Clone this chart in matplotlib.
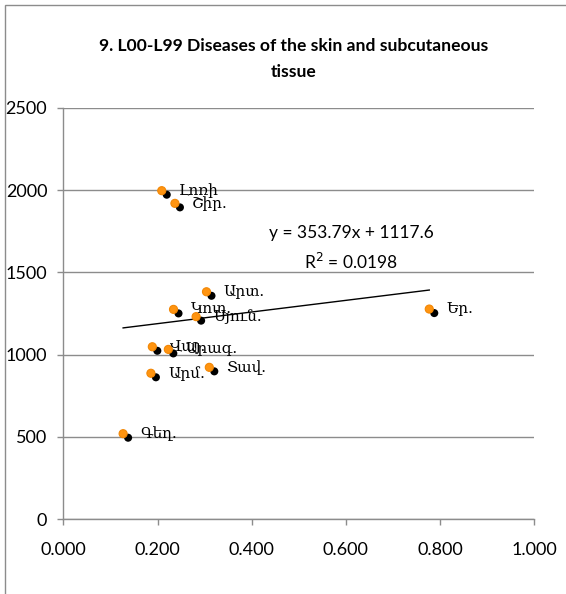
import matplotlib
matplotlib.use("Agg")
import matplotlib.pyplot as plt
import matplotlib.patheffects as pe
from matplotlib.patches import Rectangle

# Region abbreviations and their (rate, incidence) values
regions = ["Լոռի", "Շիր.", "Արտ.", "Կոտ.", "Սյուն.", "Վայ.", "Արագ.", "Արմ.", "Տավ.", "Եր.", "Գեղ."]
x_vals = [0.209, 0.237, 0.304, 0.234, 0.282, 0.189, 0.223, 0.186, 0.310, 0.777, 0.127]
y_vals = [1996, 1919, 1382, 1275, 1231, 1048, 1032, 887, 923, 1277, 520]

# Linear trend line as reported
slope = 353.79
intercept = 1117.6
r_squared = 0.0198

x_ticks = [0.0, 0.2, 0.4, 0.6, 0.8, 1.0]
y_ticks = [0, 500, 1000, 1500, 2000, 2500]

W, H = 566, 594
fig = plt.figure(figsize=(W / 100, H / 100), dpi=100)

# chart frame (extends past the right and bottom edges)
fig.patches.append(Rectangle((5 / W, -0.1), 1.2, (H - 5) / H + 0.1,
                             transform=fig.transFigure, fill=False,
                             edgecolor="#8c8c8c", linewidth=1.0))

ax = fig.add_axes([63.3 / W, 74.7 / H, 471 / W, 411.6 / H])
ax.set_xlim(0, 1)
ax.set_ylim(0, 2500)

grey = "#8c8c8c"
for s in ("top", "right"):
    ax.spines[s].set_visible(False)
for s in ("left", "bottom"):
    ax.spines[s].set_color(grey)
    ax.spines[s].set_linewidth(1.0)

ax.set_xticks(x_ticks)
ax.set_xticklabels([f"{v:.3f}" for v in x_ticks])
ax.set_yticks(y_ticks)
ax.set_yticklabels([str(v) for v in y_ticks])
ax.tick_params(axis="both", direction="out", length=4.5, width=1.0, color=grey,
               labelsize=13, labelcolor="black")
ax.tick_params(axis="x", pad=12)
ax.tick_params(axis="y", pad=7)
for lbl in ax.get_xticklabels() + ax.get_yticklabels():
    lbl.set_fontfamily("Lato")

ax.yaxis.grid(True, color=grey, linewidth=1.0)
ax.set_axisbelow(True)

# markers with a dark drop shadow
ax.plot(x_vals, y_vals, linestyle="none", marker="o", markersize=5.8,
        markerfacecolor="#ff9410", markeredgecolor="#f28705", markeredgewidth=0.8,
        zorder=4,
        path_effects=[pe.SimplePatchShadow(offset=(3.6, -2.9), shadow_rgbFace="black",
                                           alpha=1.0),
                      pe.Normal()])

for name, xv, yv in zip(regions, x_vals, y_vals):
    ax.annotate(name, (xv, yv), xytext=(12.3, 0), textcoords="offset points",
                ha="left", va="center", fontsize=11,
                family=["DejaVu Serif", "DejaVu Sans"], zorder=5)

# trend line over the data range
x0, x1 = min(x_vals), max(x_vals)
ax.plot([x0, x1], [slope * x0 + intercept, slope * x1 + intercept],
        color="black", linewidth=1.0, zorder=3)

ax.text(351 / W, (H - 233) / H, f"y = {slope:.2f}x + {intercept:.1f}",
        transform=fig.transFigure, ha="center", va="center",
        fontsize=12.5, family="Lato")
ax.text(351 / W, (H - 262) / H, f"R$^2$ = {r_squared:.4f}",
        transform=fig.transFigure, ha="center", va="center",
        fontsize=12.5, family="Lato")

fig.text(294 / W, (H - 46) / H, "9. L00-L99 Diseases of the skin and subcutaneous",
         ha="center", va="center", fontsize=12.6, fontweight="bold", family="Lato")
fig.text(294 / W, (H - 72) / H, "tissue",
         ha="center", va="center", fontsize=12.6, fontweight="bold", family="Lato")

fig.savefig("out.png", dpi=100)
